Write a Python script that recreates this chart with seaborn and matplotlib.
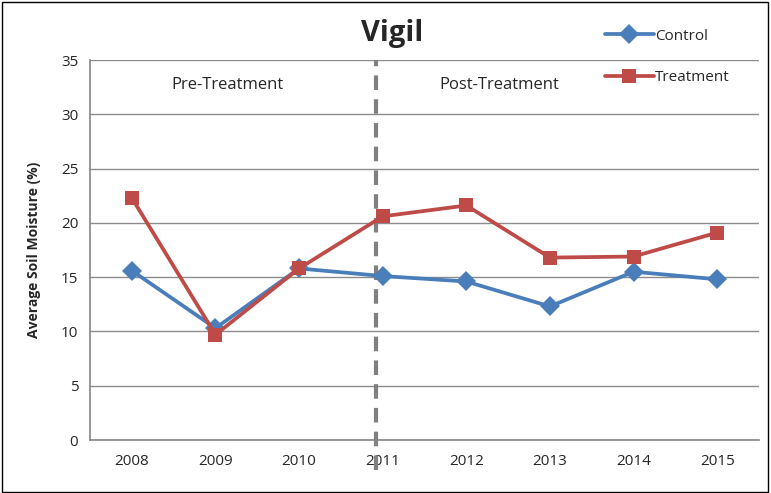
import matplotlib
matplotlib.use("Agg")
import matplotlib.pyplot as plt
import seaborn as sns
import pandas as pd
from matplotlib.patches import Rectangle

years = ["2008", "2009", "2010", "2011", "2012", "2013", "2014", "2015"]
control = [15.6, 10.3, 15.8, 15.1, 14.6, 12.3, 15.5, 14.8]
treatment = [22.3, 9.7, 15.8, 20.6, 21.6, 16.8, 16.9, 19.1]
series_names = ["Control", "Treatment"]
colors = {"Control": "#4A7EBB", "Treatment": "#BE4B48"}
markers = {"Control": "D", "Treatment": "s"}

df = pd.DataFrame({
    "idx": list(range(len(years))) * 2,
    "value": control + treatment,
    "series": ["Control"] * len(years) + ["Treatment"] * len(years),
})

sns.set_style("white")
plt.rcParams["font.family"] = ["Open Sans", "DejaVu Sans"]

fig = plt.figure(figsize=(7.71, 4.93), dpi=100)
ax = fig.add_axes([90 / 771, 53 / 493, 669 / 771, 380 / 493])

sns.lineplot(data=df, x="idx", y="value", hue="series", style="series",
             palette=colors, markers=markers, dashes=False, linewidth=2.7,
             markersize=10, markeredgewidth=0, ax=ax)

ax.set_xlim(-0.5, len(years) - 0.5)
ax.set_ylim(0, 35)
ax.set_yticks(range(0, 36, 5))
ax.set_xticks(range(len(years)))
ax.set_xticklabels(years)
ax.set_xticks([i - 0.5 for i in range(len(years) + 1)], minor=True)
ax.tick_params(axis="x", which="major", length=0, labelsize=11, pad=10)
ax.tick_params(axis="x", which="minor", length=5, color="#868686", width=1)
ax.tick_params(axis="y", length=5, color="#868686", width=1, labelsize=11, direction="out")
ax.grid(axis="y", color="#8c8c8c", linewidth=1)
ax.set_axisbelow(True)
for s in ["top", "right"]:
    ax.spines[s].set_visible(False)
for s in ["left", "bottom"]:
    ax.spines[s].set_color("#868686")
    ax.spines[s].set_linewidth(1.2)

ax.set_xlabel("")
ax.set_ylabel("Average Soil Moisture (%)", fontsize=10, fontweight="bold", labelpad=14)

# treatment start line
ax.axvline(2.92, color="#808080", linewidth=3, linestyle=(0, (3.5, 2.2)), ymin=-0.08, ymax=1.0,
           clip_on=False, zorder=1)

ax.text(1.15, 32.7, "Pre-Treatment", ha="center", va="center", fontsize=12)
ax.text(4.4, 32.7, "Post-Treatment", ha="center", va="center", fontsize=12)

fig.text(392 / 771, 1 - 34 / 493, "Vigil", ha="center", va="center",
         fontsize=21, fontweight="bold")

handles, labels = ax.get_legend_handles_labels()
ax.legend(handles, labels, loc="upper left", bbox_to_anchor=(597 / 771, 1 - 21 / 493),
          bbox_transform=fig.transFigure, frameon=False, fontsize=11,
          handlelength=3.2, handletextpad=0.1, labelspacing=1.75, borderpad=0)

fig.patches.append(Rectangle((0.002, 0.002), 0.994, 0.994, transform=fig.transFigure,
                             fill=False, edgecolor="black", linewidth=1))

fig.savefig("out.png", dpi=100)
